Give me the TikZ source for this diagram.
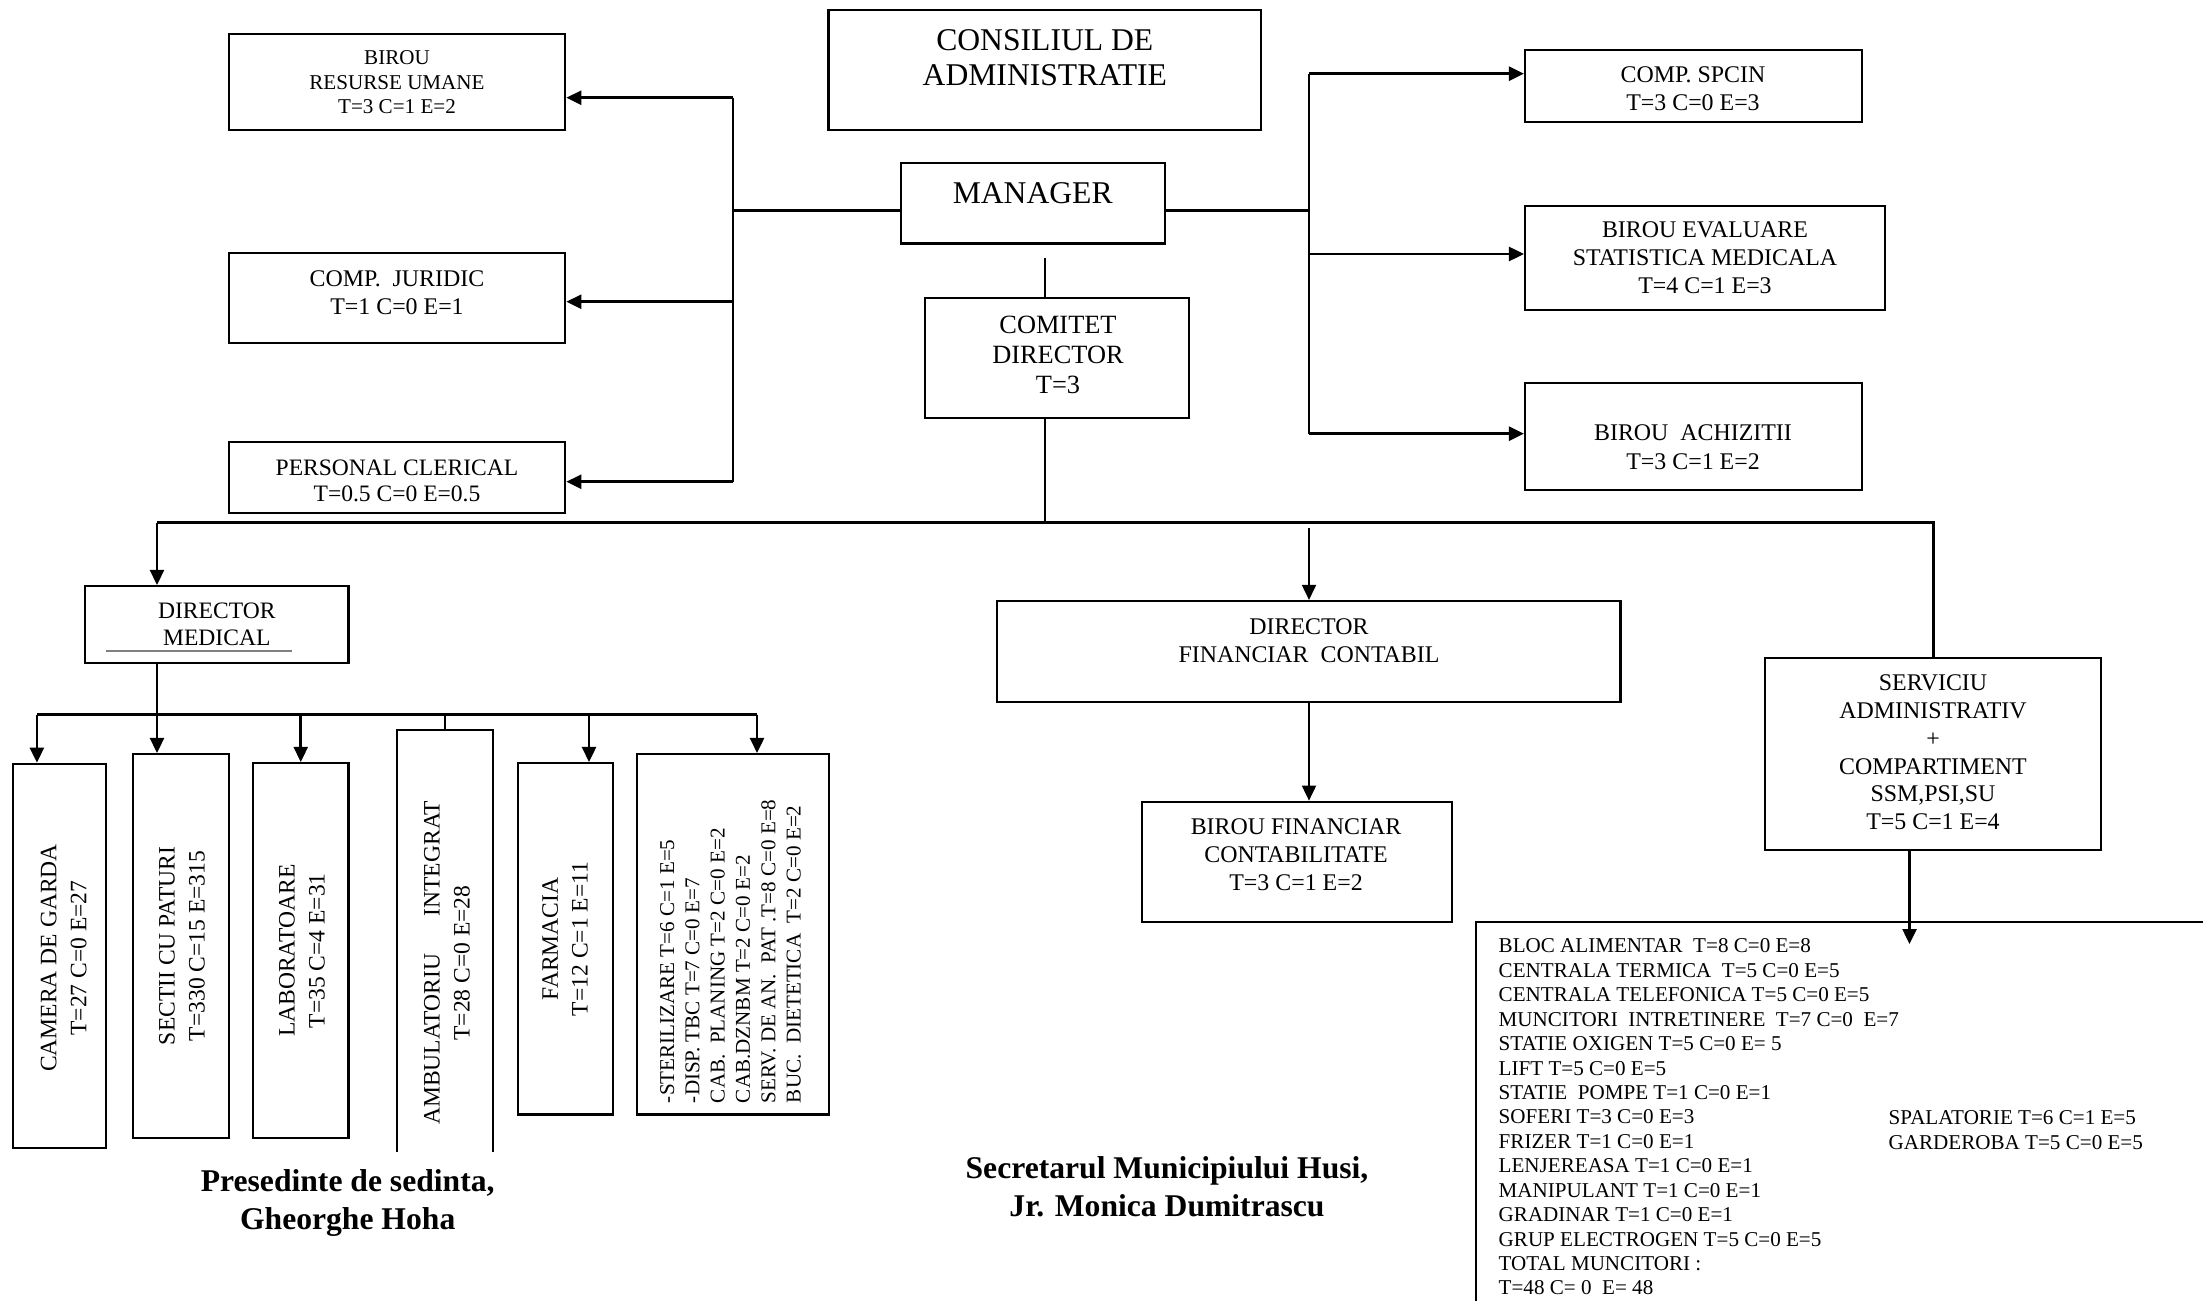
\documentclass[tikz,border=0pt]{standalone}
\usepackage{fontspec}
\setmainfont{Liberation Serif}
\usetikzlibrary{arrows.meta,calc}
\begin{document}
\begin{tikzpicture}[x=0.1mm,y=-0.1mm,
  box/.style={draw, line width=0.6pt, rectangle, inner sep=0pt},
  boxline/.style={line width=0.6pt},
  txt/.style={inner sep=0pt, align=center, font=\fontsize{6.8}{8}\selectfont},
  vtxt/.style={inner sep=0pt, align=center, rotate=90, font=\fontsize{6.7}{8.5}\selectfont},
  sig/.style={inner sep=0pt, align=center, font=\fontsize{9}{10.8}\selectfont\bfseries},
  conn/.style={line width=0.75pt},
  thinln/.style={line width=0.5pt},
  arr/.style={conn, -{Triangle[length=1.5mm,width=1.4mm]}},
  thinarr/.style={thinln, -{Triangle[length=1.5mm,width=1.4mm]}}]
\useasboundingbox (0,0) rectangle (2203,1301);
\fill[white] (0,0) rectangle (2203,1301);
\clip (0,0) rectangle (2203,1301);

% ---------- boxes ----------
\node[box, minimum width=33.67mm, minimum height=9.63mm] (ru) at (397,81.85) {};
\node[box, minimum width=33.67mm, minimum height=8.97mm] (jur) at (397,297.85) {};
\node[box, minimum width=33.67mm, minimum height=7.1mm] (cler) at (397,477.5) {};
\node[box, minimum width=43.25mm, minimum height=12.03mm] (cons) at (1044.75,69.85) {};
\node[box, minimum width=26.47mm, minimum height=8.08mm] (mgr) at (1033.05,203.1) {};
\node[box, minimum width=26.47mm, minimum height=12mm] (com) at (1056.95,357.7) {};
\node[box, minimum width=33.7mm, minimum height=7.23mm] (spcin) at (1693.5,85.85) {};
\node[box, minimum width=36mm, minimum height=10.43mm] (eval) at (1705,257.85) {};
\node[box, minimum width=33.7mm, minimum height=10.76mm] (achiz) at (1693.5,436.5) {};
\node[box, minimum width=26.35mm, minimum height=7.67mm] (dmed) at (216.75,624.35) {};
\node[box, minimum width=62.38mm, minimum height=10.1mm] (dfin) at (1308.6,651.5) {};
\node[box, minimum width=31.06mm, minimum height=12mm] (bfin) at (1296.9,861.7) {};
\node[box, minimum width=33.56mm, minimum height=19.23mm] (serv) at (1933.2,753.85) {};
\node[box, minimum width=9.27mm, minimum height=38.41mm] (camera) at (59.35,955.75) {};
\node[box, minimum width=9.54mm, minimum height=38.42mm] (sectii) at (181,946.1) {};
\node[box, minimum width=9.55mm, minimum height=37.5mm] (lab) at (300.75,950.5) {};
\node[box, minimum width=9.54mm, minimum height=35.15mm] (farm) at (565.3,938.75) {};
\node[box, minimum width=19.18mm, minimum height=36.05mm] (misc) at (732.8,934.25) {};
% open boxes
\coordinate (ambtop) at (445,730);
\draw[boxline] (397.3,1152) -- (397.3,730) -- (492.7,730) -- (492.7,1152);
\coordinate (bloctl) at (1476.4,921.7);
\draw[boxline] (2210,921.7) -- (bloctl) -- (1476.4,1310);
\draw[gray, line width=0.3pt] (106,651) -- (291.6,651);

% ---------- texts ----------
\node[txt, font=\fontsize{6}{7}\selectfont] (ru-t) at (397,82.2) {BIROU\\RESURSE UMANE\\T=3 C=1 E=2};
\node[txt] (jur-t) at (397,292.5) {COMP.\ \ JURIDIC\\T=1 C=0 E=1};
\node[txt, font=\fontsize{6.7}{7.6}\selectfont] (cler-t) at (397,481) {PERSONAL CLERICAL\\T=0.5 C=0 E=0.5};
\node[txt, font=\fontsize{9}{10}\selectfont] (cons-t) at (1044.8,57.5) {CONSILIUL DE\\ADMINISTRATIE};
\node[txt, font=\fontsize{9}{10}\selectfont] (mgr-t) at (1032.7,193.3) {MANAGER};
\node[txt, font=\fontsize{7.5}{8.6}\selectfont] (com-t) at (1058,355) {COMITET\\DIRECTOR\\T=3};
\node[txt] (spcin-t) at (1693,88.35) {COMP. SPCIN\\T=3 C=0 E=3};
\node[txt] (eval-t) at (1705,258) {BIROU EVALUARE\\STATISTICA MEDICALA\\T=4 C=1 E=3};
\node[txt] (achiz-t) at (1693,447.2) {BIROU\ \ ACHIZITII\\T=3 C=1 E=2};
\node[txt, font=\fontsize{6.7}{7.8}\selectfont] (dmed-t) at (216.8,624.5) {DIRECTOR\\MEDICAL};
\node[txt] (dfin-t) at (1309,640.85) {DIRECTOR\\FINANCIAR\ \ CONTABIL};
\node[txt, font=\fontsize{6.8}{7.85}\selectfont] (bfin-t) at (1296,854.65) {BIROU FINANCIAR\\CONTABILITATE\\T=3 C=1 E=2};
\node[txt, font=\fontsize{6.8}{7.9}\selectfont] (serv-t) at (1933,752.5) {SERVICIU\\ADMINISTRATIV\\+\\COMPARTIMENT\\SSM,PSI,SU\\T=5 C=1 E=4};

\node[vtxt] (camera-t) at (63.7,958) {CAMERA DE GARDA\\T=27 C=0 E=27};
\node[vtxt] (sectii-t) at (182,946) {SECTII CU PATURI\\T=330 C=15 E=315};
\node[vtxt] (lab-t) at (302,950.7) {LABORATOARE\\T=35 C=4 E=31};
\node[vtxt] (amb-t) at (447,963) {AMBULATORIU\hspace{1.6em}INTEGRAT\\T=28 C=0 E=28};
\node[vtxt] (farm-t) at (565,939) {FARMACIA\\T=12 C=1 E=11};
\node[vtxt, align=left, anchor=west, font=\fontsize{6}{7.2}\selectfont] (misc-t) at (730.5,1103.7)
  {-STERILIZARE T=6 C=1 E=5\\-DISP. TBC T=7 C=0 E=7\\CAB.\ \ PLANING T=2 C=0 E=2\\CAB.DZNBM T=2 C=0 E=2\\SERV. DE AN.\ \ PAT .T=8 C=0 E=8\\BUC.\ \ DIETETICA\ \ T=2 C=0 E=2};

\node[txt, align=left, anchor=west, font=\fontsize{6}{6.95}\selectfont] (bloc-t) at (1498,1117)
  {BLOC ALIMENTAR\ \ T=8 C=0 E=8\\CENTRALA TERMICA\ \ T=5 C=0 E=5\\CENTRALA TELEFONICA T=5 C=0 E=5\\MUNCITORI\ \ INTRETINERE\ \ T=7 C=0\ \ E=7\\STATIE OXIGEN T=5 C=0 E= 5\\LIFT T=5 C=0 E=5\\STATIE\ \ POMPE T=1 C=0 E=1\\SOFERI T=3 C=0 E=3\\FRIZER T=1 C=0 E=1\\LENJEREASA T=1 C=0 E=1\\MANIPULANT T=1 C=0 E=1\\GRADINAR T=1 C=0 E=1\\GRUP ELECTROGEN T=5 C=0 E=5\\TOTAL MUNCITORI :\\T=48 C= 0\ \ E= 48};
\node[txt, align=left, anchor=west, font=\fontsize{6}{6.95}\selectfont] (bloc2-t) at (1888,1129.9)
  {SPALATORIE T=6 C=1 E=5\\GARDEROBA T=5 C=0 E=5};

\node[sig] (pres-t) at (347.7,1203) {Presedinte de sedinta,\\Gheorghe Hoha};
\node[sig] (secr-t) at (1167,1187) {Secretarul Municipiului Husi,\\Jr. Monica Dumitrascu};

% ---------- connectors ----------
\coordinate (l1) at (733,97.7);
\coordinate (lm) at (733,210.7);
\coordinate (l2) at (733,301.7);
\coordinate (l3) at (733,481.7);
\draw[conn] (l1) -- (l3);
\draw[conn] (mgr.west |- lm) -- (lm);
\draw[arr] (l1) -- (ru.east |- l1);
\draw[arr] (l2) -- (jur.east |- l2);
\draw[arr] (l3) -- (cler.east |- l3);

\coordinate (r1) at (1308.9,73.7);
\coordinate (rm) at (1308.9,210.7);
\coordinate (r2) at (1308.9,254);
\coordinate (r3) at (1308.9,433.7);
\draw[conn] (r1) -- (r3);
\draw[conn] (mgr.east |- rm) -- (rm);
\draw[arr] (r1) -- (spcin.west |- r1);
\draw[arr] (r2) -- (eval.west |- r2);
\draw[arr] (r3) -- (achiz.west |- r3);

\coordinate (mc) at (1045,258.3);
\draw[thinln] (mc) -- (mc |- com.north);
\coordinate (tb) at (1045,522.7);
\draw[thinln] (com.south -| tb) -- (tb);
\coordinate (bl) at (157,522.7);
\coordinate (br) at (1933.2,522.7);
\draw[conn] (bl) -- (br) -- (serv.north);
\draw[arr] (bl) -- (dmed.north -| bl);
\coordinate (fa) at (1309,528.3);
\draw[thinarr] (fa) -- (dfin.north -| fa);
\draw[thinarr] (dfin.south -| fa) -- (bfin.north -| fa);

\coordinate (s0) at (157,714.7);
\coordinate (sa) at (36.9,714.7);
\coordinate (sz) at (757,714.7);
\coordinate (sf) at (589,714.7);
\draw[conn] (dmed.south -| s0) -- (s0);
\draw[conn] (sa) -- (sz);
\draw[arr] (sa) -- (camera.north -| sa);
\draw[arr] (s0) -- (sectii.north -| s0);
\draw[arr] (lab.north |- sa) -- (lab.north);
\draw[conn] (ambtop |- sa) -- (ambtop);
\draw[arr] (sf) -- (farm.north -| sf);
\draw[arr] (sz) -- (misc.north -| sz);

\coordinate (bin) at (1909.5,944);
\draw[arr] (serv.south -| bin) -- (bin);
\end{tikzpicture}
\end{document}
